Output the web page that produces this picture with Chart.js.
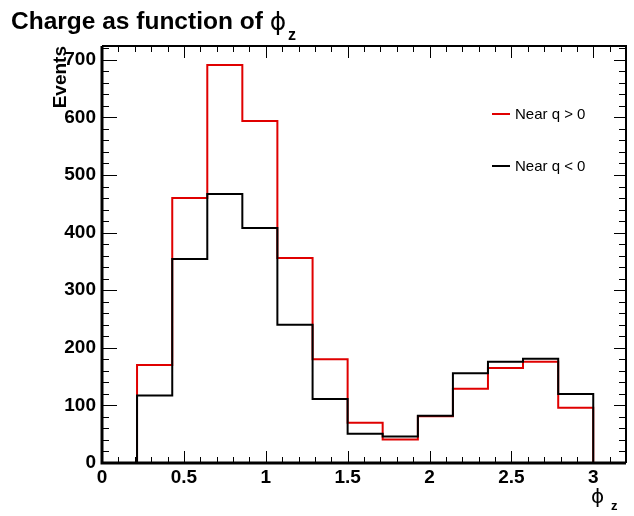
<!DOCTYPE html>
<html>
<head>
<meta charset="utf-8">
<script src="https://cdn.jsdelivr.net/npm/chart.js@4.4.1/dist/chart.umd.min.js"></script>
<style>
  html, body { margin: 0; padding: 0; background: #fff; }
  #wrap { width: 634px; height: 516px; position: relative; }
</style>
</head>
<body>
<div id="wrap"><canvas id="chart" width="634" height="516"></canvas></div>
<script>
// Histogramm: 14 Bins von 0 bis 3, Achse bis 3.2
const binEdges = [0, 0.214, 0.429, 0.643, 0.857, 1.071, 1.286, 1.5, 1.714, 1.929, 2.143, 2.357, 2.571, 2.786, 3.0];
const nearPositive = [0, 170, 460, 691, 594, 356, 180, 70, 41, 81, 129, 165, 176, 96];
const nearNegative = [0, 117, 354, 467, 408, 240, 111, 51, 46, 82, 156, 176, 181, 120];
const legendLabels = ["Near q > 0", "Near q < 0"];
const yTicks = [0, 100, 200, 300, 400, 500, 600, 700];
const xTicks = [0, 0.5, 1, 1.5, 2, 2.5, 3];

const FONT = '"Liberation Sans", Arial, Helvetica, sans-serif';

// Punkte fuer die Stufenlinie aus Bin-Kanten und Inhalten bauen
function toSteps(values) {
    let pts = values.map((v, i) => ({ x: binEdges[i], y: v }));
    pts.push({ x: binEdges[binEdges.length - 1], y: 0 });
    return pts;
}

// Eigene Ticks nach innen (ROOT-Stil), Rahmen, Titel und Legende
const rootStyle = {
    id: 'rootStyle',
    afterDraw(chart) {
        const ctx = chart.ctx;
        const a = chart.chartArea;
        const xs = chart.scales.x, ys = chart.scales.y;
        ctx.save();
        ctx.strokeStyle = '#000';

        // x Ticks
        ctx.lineWidth = 1;
        for (let i = 0; i <= 32; i++) {
            const px = Math.round(xs.getPixelForValue(i / 10)) + 0.5;
            const len = (i % 5 === 0) ? 12 : 6;
            ctx.beginPath();
            ctx.moveTo(px, a.bottom); ctx.lineTo(px, a.bottom - len);
            ctx.moveTo(px, a.top); ctx.lineTo(px, a.top + len);
            ctx.stroke();
        }
        // y Ticks
        for (let v = 0; v <= 720; v += 20) {
            const py = Math.round(ys.getPixelForValue(v)) + 0.5;
            const major = v % 100 === 0;
            ctx.beginPath();
            ctx.moveTo(a.left, py); ctx.lineTo(a.left + (major ? 15 : 7), py);
            ctx.moveTo(a.right, py); ctx.lineTo(a.right - (major ? 12 : 7), py);
            ctx.stroke();
        }

        // Rahmen
        ctx.lineWidth = 3;
        ctx.beginPath();
        ctx.moveTo(a.left, a.top); ctx.lineTo(a.left, a.bottom); ctx.lineTo(a.right, a.bottom);
        ctx.stroke();
        ctx.lineWidth = 2;
        ctx.beginPath();
        ctx.moveTo(a.left, a.top); ctx.lineTo(a.right, a.top); ctx.lineTo(a.right, a.bottom);
        ctx.stroke();

        ctx.fillStyle = '#000';
        ctx.textBaseline = 'alphabetic';

        // Titel
        ctx.font = 'bold 24.5px ' + FONT;
        ctx.textAlign = 'left';
        const t = 'Charge as function of ';
        ctx.fillText(t, 11, 29);
        let tx = 11 + ctx.measureText(t).width;
        ctx.font = '25px "DejaVu Sans", sans-serif';
        ctx.fillText('\u03D5', tx, 30);
        tx += ctx.measureText('\u03D5').width;
        ctx.font = 'bold 16px ' + FONT;
        ctx.fillText('z', tx + 2, 40);

        // y Achsentitel
        ctx.save();
        ctx.translate(66, 46);
        ctx.rotate(-Math.PI / 2);
        ctx.font = 'bold 19px ' + FONT;
        ctx.textAlign = 'right';
        ctx.fillText('Events', 0, 0);
        ctx.restore();

        // x Achsentitel
        ctx.font = '20px "DejaVu Sans", sans-serif';
        ctx.textAlign = 'left';
        ctx.fillText('\u03D5', 591, 503);
        ctx.font = 'bold 13px ' + FONT;
        ctx.fillText('z', 611, 510);

        // Legende
        const colors = ['#e00000', '#000000'];
        const rows = [114, 166];
        ctx.font = '15px ' + FONT;
        ctx.textBaseline = 'middle';
        for (let i = 0; i < 2; i++) {
            ctx.strokeStyle = colors[i];
            ctx.lineWidth = 2;
            ctx.beginPath();
            ctx.moveTo(492, rows[i]); ctx.lineTo(510, rows[i]);
            ctx.stroke();
            ctx.fillText(legendLabels[i], 515, rows[i] + 1);
        }
        ctx.restore();
    }
};

new Chart(document.getElementById('chart'), {
    type: 'line',
    data: {
        datasets: [{
            label: legendLabels[0],
            data: toSteps(nearPositive),
            borderColor: '#e00000',
            borderWidth: 2,
            pointRadius: 0,
            stepped: 'before',
            fill: false,
            order: 2
        }, {
            label: legendLabels[1],
            data: toSteps(nearNegative),
            borderColor: '#000000',
            borderWidth: 2,
            pointRadius: 0,
            stepped: 'before',
            fill: false,
            order: 1
        }]
    },
    options: {
        responsive: false,
        animation: false,
        devicePixelRatio: 1,
        layout: { padding: { left: 0, top: 46, right: 8, bottom: 0 } },
        plugins: {
            legend: { display: false },
            tooltip: { enabled: false },
            title: { display: false }
        },
        scales: {
            x: {
                type: 'linear',
                min: 0,
                max: 3.2,
                afterFit: s => { s.height = 53; },
                afterBuildTicks: s => { s.ticks = xTicks.map(v => ({ value: v })); },
                grid: { display: false, drawTicks: false },
                border: { display: false },
                ticks: {
                    padding: 3,
                    color: '#000',
                    maxRotation: 0,
                    font: { family: FONT, weight: 'bold', size: 19 },
                    callback: v => String(v)
                }
            },
            y: {
                min: 0,
                max: 724,
                afterFit: s => { s.width = 102; },
                afterBuildTicks: s => { s.ticks = yTicks.map(v => ({ value: v })); },
                grid: { display: false, drawTicks: false },
                border: { display: false },
                ticks: {
                    padding: 6,
                    color: '#000',
                    font: { family: FONT, weight: 'bold', size: 19 },
                    callback: v => String(v)
                }
            }
        }
    },
    plugins: [rootStyle]
});
</script>
</body>
</html>
